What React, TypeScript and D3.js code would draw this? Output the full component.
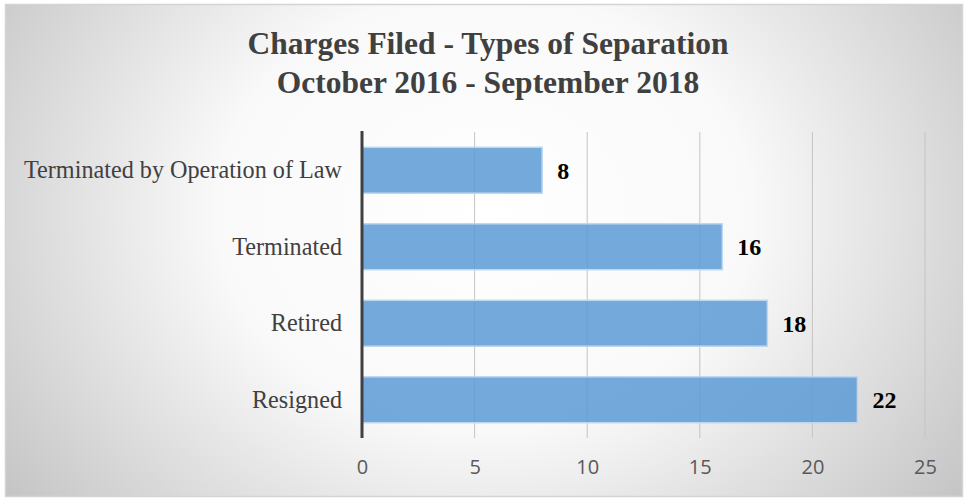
import * as d3 from "d3";
import { useEffect, useRef } from "react";

const categories = [
  "Terminated by Operation of Law",
  "Terminated",
  "Retired",
  "Resigned",
];
const counts = [8, 16, 18, 22];
const xTicks = [0, 5, 10, 15, 20, 25];
const titleLines = [
  "Charges Filed - Types of Separation",
  "October 2016 - September 2018",
];

const W = 967;
const H = 501;
const SERIF = "Liberation Serif, Times New Roman, serif";

function SeparationChart() {
  const svgRef = useRef<SVGSVGElement>(null);

  useEffect(() => {
    const svg = d3.select(svgRef.current);
    svg.selectAll("*").remove();

    const defs = svg.append("defs");
    const grad = defs
      .append("radialGradient")
      .attr("id", "bg")
      .attr("cx", "0.5")
      .attr("cy", "0.42")
      .attr("r", "0.62")
      .attr("gradientTransform", "translate(0.5 0.42) scale(1 1.6) translate(-0.5 -0.42)");
    grad.append("stop").attr("offset", "0").attr("stop-color", "#ffffff");
    grad.append("stop").attr("offset", "0.45").attr("stop-color", "#f9f9f9");
    grad.append("stop").attr("offset", "1").attr("stop-color", "#c4c4c4");

    svg
      .append("rect")
      .attr("x", 5.5)
      .attr("y", 4.5)
      .attr("width", 957)
      .attr("height", 492)
      .attr("fill", "url(#bg)")
      .attr("stroke", "#d4d4d4")
      .attr("stroke-width", 1.5);

    // title
    svg
      .append("g")
      .selectAll("text")
      .data(titleLines)
      .join("text")
      .attr("x", 488)
      .attr("y", (d, i) => 54 + i * 39)
      .attr("text-anchor", "middle")
      .style("font-family", SERIF)
      .attr("font-weight", "bold")
      .attr("font-size", 31.5)
      .attr("fill", "#404040")
      .text((d) => d);

    const xScale = d3.scaleLinear().domain([0, 25]).range([362, 925]);
    const yScale = d3
      .scaleBand()
      .domain(categories)
      .range([132, 438])
      .paddingInner(0.4)
      .paddingOuter(0.2);

    // gridlines
    svg
      .append("g")
      .selectAll("line")
      .data(xTicks.filter((t) => t > 0))
      .join("line")
      .attr("x1", (d) => xScale(d))
      .attr("x2", (d) => xScale(d))
      .attr("y1", 132)
      .attr("y2", 438)
      .attr("stroke", "#c4c4c4")
      .attr("stroke-width", 1);

    // bars
    svg
      .append("g")
      .selectAll("rect")
      .data(counts)
      .join("rect")
      .attr("x", xScale(0))
      .attr("y", (d, i) => yScale(categories[i]))
      .attr("width", (d) => xScale(d) - xScale(0))
      .attr("height", yScale.bandwidth())
      .attr("fill", "#5b9bd5")
      .attr("fill-opacity", 0.85)
      .attr("stroke", "#bdd7ee")
      .attr("stroke-width", 1.5);

    // value labels
    svg
      .append("g")
      .selectAll("text")
      .data(counts)
      .join("text")
      .attr("x", (d) => xScale(d) + 15)
      .attr("y", (d, i) => yScale(categories[i]) + yScale.bandwidth() / 2)
      .attr("dy", "0.35em")
      .style("font-family", SERIF)
      .attr("font-weight", "bold")
      .attr("font-size", 24)
      .attr("fill", "#000")
      .text((d) => d);

    // y axis
    const yAxis = d3.axisLeft(yScale).tickSize(0).tickPadding(20);
    const yg = svg.append("g").attr("transform", "translate(362,0)").call(yAxis);
    yg.select(".domain").remove();
    yg.attr("font-family", null).attr("font-size", null);
    yg.selectAll("text")
      .style("font-family", SERIF)
      .style("font-size", "24.2px")
      .attr("fill", "#404040");
    svg
      .append("line")
      .attr("x1", 362)
      .attr("x2", 362)
      .attr("y1", 131)
      .attr("y2", 438)
      .attr("stroke", "#404040")
      .attr("stroke-width", 3);

    // x axis
    const xAxis = d3.axisBottom(xScale).tickValues(xTicks).tickSize(0).tickPadding(22);
    const xg = svg.append("g").attr("transform", "translate(0,438)").call(xAxis);
    xg.select(".domain").remove();
    xg.attr("font-family", null).attr("font-size", null);
    xg.selectAll("text")
      .style("font-family", "Open Sans, DejaVu Sans, sans-serif")
      .style("font-size", "20px")
      .attr("fill", "#595959");
  }, []);

  return <svg ref={svgRef} width={W} height={H} />;
}

export default function App() {
  return (
    <div style={{ position: "absolute", left: 0, top: 0 }}>
      <SeparationChart />
    </div>
  );
}
